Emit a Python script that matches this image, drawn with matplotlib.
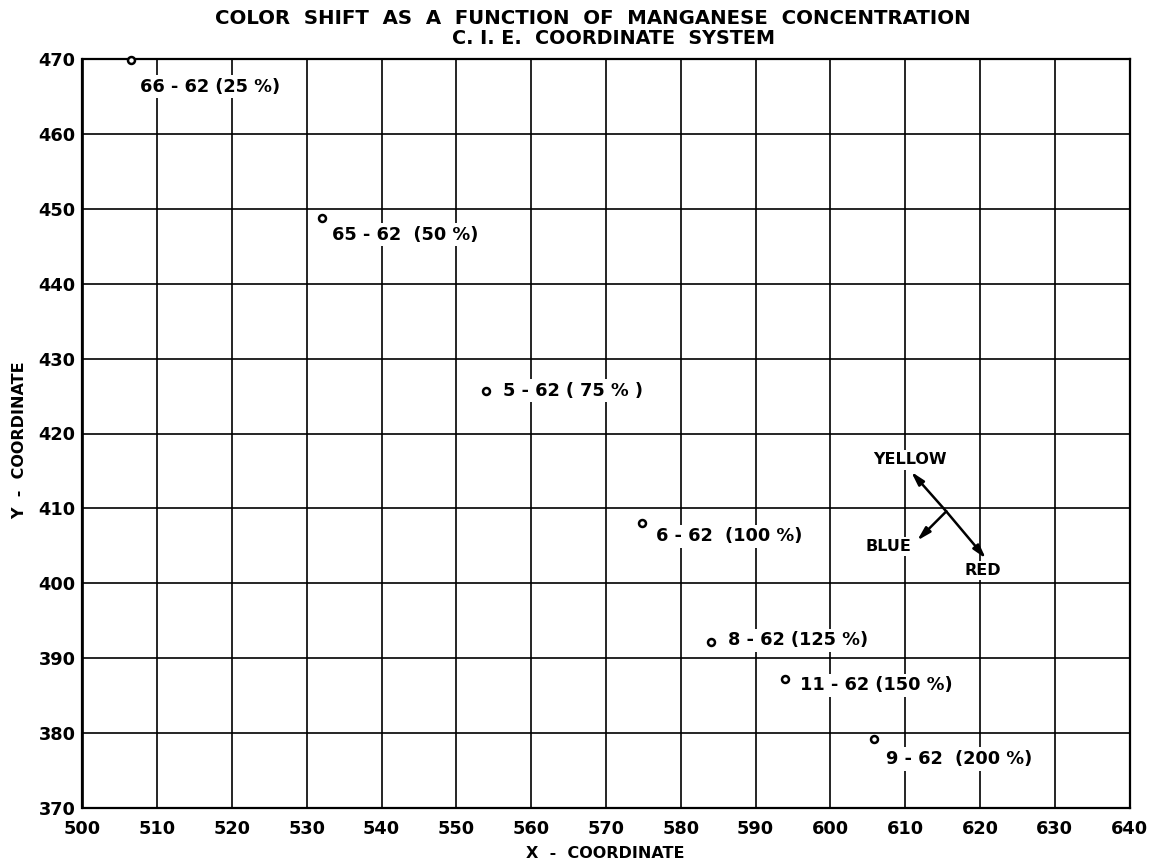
import matplotlib
matplotlib.use("Agg")
import matplotlib.pyplot as plt

plt.rcParams['font.family'] = ['DejaVu Sans']

# Sample chromaticity coordinates (scaled x1000)
samples = ["66 - 62 (25 %)", "65 - 62  (50 %)", "5 - 62 ( 75 % )", "6 - 62  (100 %)",
           "8 - 62 (125 %)", "11 - 62 (150 %)", "9 - 62  (200 %)"]
x_coord = [506.5, 532.0, 554.0, 574.8, 584.0, 594.0, 605.9]
y_coord = [469.9, 448.8, 425.7, 408.0, 392.1, 387.2, 379.2]
# label offsets in pixels (right, down)
label_dx = [9, 10, 17, 14, 17, 15, 12]
label_dy = [27, 17, 0, 13, -2, 6, 20]

x_ticks = list(range(500, 641, 10))
y_ticks = list(range(370, 471, 10))
x_tick_labels = ["500", "510", "520", "530", "540", "550", "560", "570", "580",
                 "590", "600", "610", "620", "630", "640"]
y_tick_labels = ["370", "380", "390", "400", "410", "420", "430", "440",
                 "450", "460", "470"]

# Direction key: yellow / blue / red
key_origin = (615.5, 409.6)
key_tips = {"YELLOW": (610.8, 414.9), "RED": (620.8, 403.3), "BLUE": (611.6, 405.7)}
key_text = {"YELLOW": (610.7, 416.5), "RED": (620.4, 401.7), "BLUE": (607.7, 404.9)}

W, H = 1154, 867
fig = plt.figure(figsize=(W / 100, H / 100), dpi=100)
ax = fig.add_axes([82.5 / W, 1 - 808 / H, (1129.5 - 82.5) / W, (808 - 59) / H])

ax.set_xlim(500, 640)
ax.set_ylim(370, 470)
ax.set_xticks(x_ticks)
ax.set_xticklabels(x_tick_labels)
ax.set_yticks(y_ticks)
ax.set_yticklabels(y_tick_labels)
ax.tick_params(length=0, labelsize=12.8, pad=5)
ax.tick_params(axis='x', pad=9)
for lbl in ax.get_xticklabels() + ax.get_yticklabels():
    lbl.set_fontweight('bold')
ax.grid(True, color='black', linewidth=1.2)
ax.set_axisbelow(True)
for sp in ax.spines.values():
    sp.set_linewidth(1.6)
    sp.set_zorder(5)

ax.plot(x_coord, y_coord, linestyle='none', marker='o', markersize=5,
        markerfacecolor='white', markeredgecolor='black', markeredgewidth=1.8,
        zorder=6, clip_on=False)

for name, xv, yv, dx, dy in zip(samples, x_coord, y_coord, label_dx, label_dy):
    ax.annotate(name, (xv, yv), xytext=(dx, -dy), textcoords='offset pixels',
                ha='left', va='center', fontsize=12.8, fontweight='bold',
                bbox=dict(boxstyle='square,pad=0.15', facecolor='white',
                          edgecolor='none'), zorder=4)

for name, tip in key_tips.items():
    ax.annotate('', xy=tip, xytext=key_origin,
                arrowprops=dict(arrowstyle='-|>,head_length=0.8,head_width=0.22',
                                color='black', linewidth=1.8,
                                shrinkA=0, shrinkB=0), zorder=6)
for name, pos in key_text.items():
    ax.text(pos[0], pos[1], name, ha='center', va='center', fontsize=11.5,
            fontweight='bold',
            bbox=dict(boxstyle='square,pad=0.15', facecolor='white',
                      edgecolor='none'), zorder=4)

fig.text(593 / W, 1 - 18.5 / H,
         "COLOR  SHIFT  AS  A  FUNCTION  OF  MANGANESE  CONCENTRATION",
         ha='center', va='center', fontsize=14.2, fontweight='bold')
fig.text(614 / W, 1 - 39 / H, "C. I. E.  COORDINATE  SYSTEM",
         ha='center', va='center', fontsize=13.8, fontweight='bold')
fig.text(605 / W, 1 - 854 / H, "X  -  COORDINATE", ha='center', va='center',
         fontsize=11.5, fontweight='bold')
fig.text(20 / W, 1 - 440 / H, "Y  -  COORDINATE", ha='center', va='center',
         fontsize=11.5, fontweight='bold', rotation=90)

fig.savefig("out.png", dpi=100)
